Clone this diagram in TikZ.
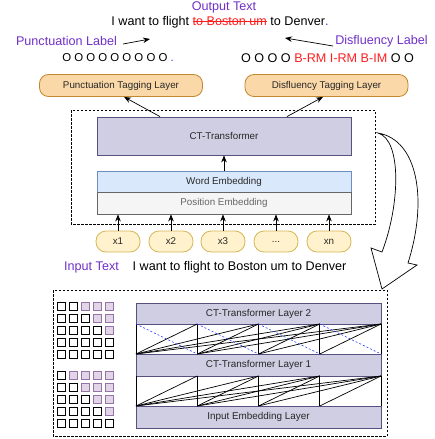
\documentclass[tikz,border=0pt]{standalone}
\usepackage{fontspec}
\setmainfont{Liberation Sans}
\usetikzlibrary{arrows.meta}
\definecolor{purp}{RGB}{112,48,200}
\definecolor{redt}{RGB}{255,30,30}
\definecolor{bluet}{RGB}{40,60,255}
\definecolor{orfill}{RGB}{250,216,168}
\definecolor{ordraw}{RGB}{195,135,45}
\definecolor{tokfill}{RGB}{255,242,204}
\definecolor{tokdraw}{RGB}{214,182,86}
\definecolor{ctfill}{RGB}{208,206,226}
\definecolor{ctdraw}{RGB}{86,81,126}
\definecolor{wefill}{RGB}{218,232,252}
\definecolor{wedraw}{RGB}{108,142,191}
\definecolor{pefill}{RGB}{245,245,245}
\definecolor{pedraw}{RGB}{102,102,102}
\definecolor{sqfill}{RGB}{225,213,231}
\definecolor{sqdraw}{RGB}{150,115,166}
\definecolor{txtg}{RGB}{40,40,40}
\newcommand\mystrk[1]{\setbox0\hbox{#1}\rlap{\rule[0.3em]{\wd0}{0.7pt}}\box0}
\newcommand\mydots{...}
\begin{document}
\begin{tikzpicture}[x=1pt,y=-1pt,
  lab/.style={font=\fontsize{12.6}{14}\selectfont, inner sep=0pt},
  small/.style={font=\fontsize{9.8}{11}\selectfont, text=txtg, inner sep=0pt},
  tagbox/.style={small, draw=ordraw, fill=orfill, rounded corners=9pt, minimum width=163pt, minimum height=22pt, line width=0.8pt},
  ctbox/.style={small, draw=ctdraw, fill=ctfill, line width=0.8pt},
  tok/.style={small, draw=tokdraw, fill=tokfill, rounded corners=10pt, minimum width=44pt, minimum height=21pt, line width=0.8pt},
  arr/.style={-{Stealth[length=7pt,width=5.5pt]}, line width=0.7pt},
  dbox/.style={dash pattern=on 2.5pt off 1.5pt, line width=0.6pt},
  link/.style={line width=0.7pt, black},
  wsq/.style={draw=black, fill=white, line width=0.9pt},
  psq/.style={draw=sqdraw, fill=sqfill, line width=0.9pt}
]
\useasboundingbox (0,0) rectangle (434,439);

% top labels
\node[lab, text=purp] (outlab) at (224,7) {Output Text};
\node[lab] (outtxt) at (220,22) {I want to flight \textcolor{redt}{\mystrk{to Boston um}} to Denver\textcolor{bluet}{.}};
\node[lab, text=purp] (plab) at (66.5,41) {Punctuation Label};
\node[lab, text=purp] (dlab) at (381.5,41) {Disfluency Label};
\coordinate (pa1) at (123,44); \coordinate (pa2) at (150,39);
\coordinate (da1) at (333,46); \coordinate (da2) at (285,38);
\draw[arr] (pa1) -- (pa2);
\draw[arr] (da1) -- (da2);
\node[lab, font=\fontsize{11.4}{13}\selectfont] (prow) at (118,58) {O O O O O O O O O \textcolor{bluet}{.}};
\node[lab] (drow) at (327.5,58) {O O O O \textcolor{redt}{B-RM I-RM B-IM} O O};

% tagging layers
\node[tagbox] (punct) at (121,85.5) {Punctuation Tagging Layer};
\node[tagbox] (disfl) at (326.5,85.5) {Disfluency Tagging Layer};

% encoder
\draw[dbox] (71,110) rectangle (375,224);
\node[ctbox, minimum width=254pt, minimum height=38pt] (ct) at (224,136) {CT-Transformer};
\node[small, draw=wedraw, fill=wefill, line width=0.8pt, minimum width=254pt, minimum height=21pt] (we) at (224,181.5) {Word Embedding};
\node[small, draw=pedraw, fill=pefill, line width=0.8pt, minimum width=254pt, minimum height=22pt, text=pedraw] (pe) at (224,203) {Position Embedding};
\draw[arr] (we.north) -- (ct.south);
\draw[arr] ([xshift=-64pt]ct.north) -- ([xshift=3pt]punct.south);
\draw[arr] ([xshift=63pt]ct.north) -- ([xshift=-3.5pt]disfl.south);

\foreach \n/\x/\t in {1/118/x1, 2/171/x2, 3/223/x3, 4/276/\mydots, 5/329/xn}{
  \node[tok] (tok\n) at (\x,241.5) {\t};
  \draw[arr] (tok\n.north) -- (tok\n.north |- pe.south);
}
\node[lab, text=purp] (inlab) at (91.5,267) {Input Text};
\node[lab] (intxt) at (239.5,267) {I want to flight to Boston um to Denver};

% curved block arrow
\draw[line width=0.7pt, fill=white] (378,133) .. controls (402,140) and (400,205) .. (382,252)
  -- (371,248) -- (382,289) -- (417,265) -- (408,263)
  .. controls (428,200) and (418,140) .. (378,133) -- cycle;

% bottom panel
\draw[dbox] (53,290) rectangle (387,436);

% attention masks
\foreach \r in {0,...,4}{
  \pgfmathtruncatemacro{\wa}{min(\r+2,5)}
  \pgfmathtruncatemacro{\wb}{\r+1}
  \foreach \c in {1,...,5}{
    \pgfmathsetmacro{\xx}{57+12*(\c-1)}
    \pgfmathsetmacro{\ya}{302+12*\r}
    \pgfmathsetmacro{\yb}{371+12*\r}
    \ifnum\c>\wa \draw[psq] (\xx,\ya) rectangle ++(8,8); \else \draw[wsq] (\xx,\ya) rectangle ++(8,8); \fi
    \ifnum\c>\wb \draw[psq] (\xx,\yb) rectangle ++(8,8); \else \draw[wsq] (\xx,\yb) rectangle ++(8,8); \fi
  }
}

% layers
\node[ctbox, font=\fontsize{9.9}{11}\selectfont, minimum width=245pt, minimum height=21pt] (l2) at (258.5,313.5) {CT-Transformer Layer 2};
\node[ctbox, font=\fontsize{9.9}{11}\selectfont, minimum width=245pt, minimum height=22pt] (l1) at (258.5,365) {CT-Transformer Layer 1};
\node[ctbox, font=\fontsize{9.9}{11}\selectfont, minimum width=245pt, minimum height=22pt] (emb) at (258.5,417) {Input Embedding Layer};

% connection points
\foreach \i in {0,...,4}{
  \pgfmathsetmacro{\cx}{136+61.25*\i}
  \coordinate (at\i) at (\cx,324);
  \coordinate (ab\i) at (\cx,354);
  \coordinate (bt\i) at (\cx,376);
  \coordinate (bb\i) at (\cx,406);
  \draw[link] (at\i) -- (ab\i);
  \draw[link] (bt\i) -- (bb\i);
}
\foreach \i in {0,...,3}{
  \pgfmathtruncatemacro{\s}{\i+1}
  \foreach \j in {\s,...,4}{
    \draw[link] (ab\i) -- (at\j);
    \draw[link] (bb\i) -- (bt\j);
  }
  \draw[bluet, dash pattern=on 2pt off 2pt, line width=0.6pt] (at\i) -- (ab\s);
}
\end{tikzpicture}
\end{document}
